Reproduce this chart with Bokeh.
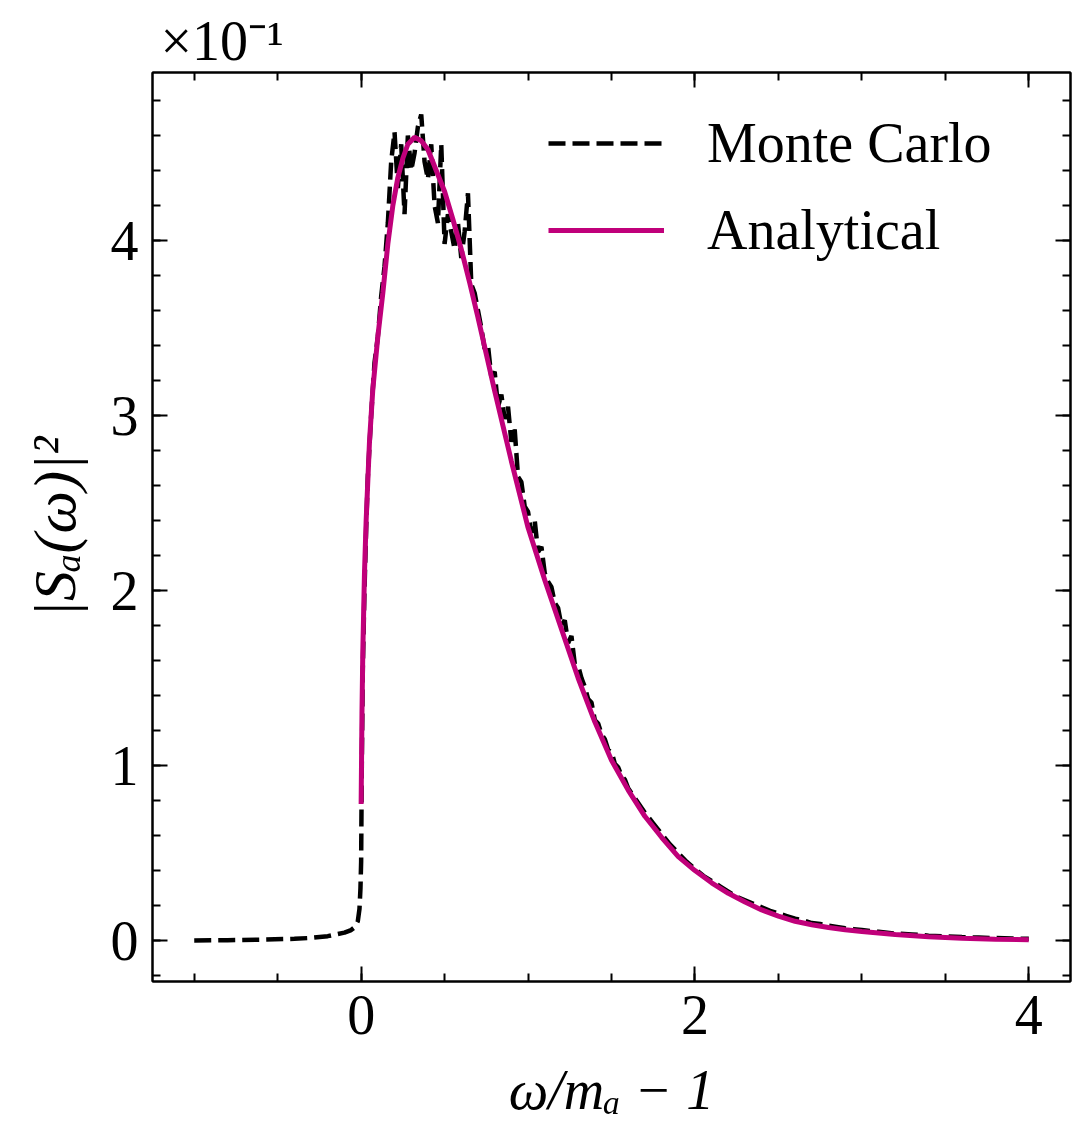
import numpy as np
from bokeh.plotting import figure
from bokeh.models import Range1d, LinearAxis, FixedTicker, Legend, LegendItem
from bokeh.embed import file_html
from bokeh.resources import INLINE

# ---------------- data ----------------
mc_x = [-1.0, -0.8, -0.6, -0.4, -0.3, -0.2, -0.1, -0.06, -0.04, -0.02, -0.01, -0.004, 0.0, 0.004,
        0.01, 0.02, 0.03, 0.04, 0.06, 0.08, 0.10, 0.12, 0.14, 0.16, 0.18, 0.20, 0.22, 0.24, 0.26,
        0.28, 0.30, 0.32, 0.34, 0.36, 0.38, 0.40, 0.42, 0.44, 0.46, 0.48, 0.50, 0.52, 0.54, 0.56,
        0.58, 0.60, 0.62, 0.64, 0.66, 0.68, 0.70, 0.72, 0.74, 0.76, 0.78, 0.80, 0.82, 0.84, 0.86,
        0.88, 0.90, 0.92, 0.94, 0.96, 0.98, 1.00, 1.02, 1.04, 1.06, 1.08, 1.10, 1.12, 1.14, 1.16,
        1.18, 1.20, 1.22, 1.24, 1.26, 1.28, 1.30, 1.32, 1.34, 1.36, 1.38, 1.40, 1.42, 1.44, 1.46,
        1.48, 1.50, 1.52, 1.54, 1.56, 1.58, 1.60, 1.65, 1.70, 1.75, 1.80, 1.85, 1.90, 1.95, 2.00,
        2.05, 2.10, 2.15, 2.20, 2.25, 2.30, 2.35, 2.40, 2.45, 2.50, 2.55, 2.60, 2.65, 2.70, 2.75,
        2.80, 2.85, 2.90, 2.95, 3.00, 3.10, 3.20, 3.30, 3.40, 3.50, 3.60, 3.70, 3.80, 3.90, 4.00]
mc_y = [0.0, 0.002, 0.005, 0.01, 0.015, 0.025, 0.045, 0.06, 0.075, 0.11, 0.18, 0.3, 0.45, 1.0,
        1.55, 2.0, 2.35, 2.65, 3.0, 3.3, 3.45, 3.68, 3.85, 4.1, 4.45, 4.62, 4.3, 4.55, 4.15,
        4.6, 4.4, 4.5, 4.65, 4.72, 4.45, 4.35, 4.55, 4.2, 4.1, 4.55, 3.98, 4.15, 4.05, 3.95,
        4.1, 3.9, 4.05, 4.27, 3.75, 3.7, 3.6, 3.5, 3.38, 3.4, 3.22, 3.25, 3.05, 3.12, 2.98,
        3.05, 2.85, 2.92, 2.65, 2.62, 2.48, 2.45, 2.33, 2.40, 2.22, 2.25, 2.10, 2.05, 2.02, 1.93,
        1.90, 1.80, 1.83, 1.70, 1.74, 1.58, 1.57, 1.50, 1.45, 1.38, 1.36, 1.26, 1.24, 1.18, 1.15,
        1.09, 1.08, 1.01, 0.99, 0.94, 0.92, 0.87, 0.80, 0.73, 0.67, 0.61, 0.55, 0.50, 0.45, 0.41,
        0.37, 0.34, 0.31, 0.28, 0.25, 0.23, 0.21, 0.19, 0.17, 0.155, 0.14, 0.125, 0.115, 0.10, 0.095,
        0.085, 0.078, 0.07, 0.065, 0.06, 0.05, 0.04, 0.035, 0.028, 0.024, 0.02, 0.017, 0.014, 0.012, 0.01]

an_x = [0.0, 0.005, 0.01, 0.02, 0.03, 0.05, 0.07, 0.10, 0.13, 0.16, 0.19, 0.22, 0.25, 0.28,
        0.32, 0.36, 0.40, 0.45, 0.50, 0.55, 0.60, 0.65, 0.70, 0.75, 0.80, 0.87, 0.90, 1.00,
        1.10, 1.20, 1.30, 1.40, 1.50, 1.60, 1.70, 1.80, 1.90, 2.00, 2.10, 2.20, 2.30, 2.40,
        2.50, 2.60, 2.70, 2.80, 2.90, 3.00, 3.20, 3.40, 3.60, 3.80, 4.00]
an_y = [0.78, 1.3, 1.65, 2.1, 2.4, 2.85, 3.15, 3.45, 3.70, 3.98, 4.2, 4.36, 4.47, 4.55,
        4.59, 4.57, 4.52, 4.40, 4.28, 4.12, 3.95, 3.76, 3.56, 3.35, 3.14, 2.86, 2.74, 2.36,
        2.06, 1.78, 1.50, 1.25, 1.03, 0.86, 0.71, 0.59, 0.48, 0.40, 0.33, 0.27, 0.22, 0.175,
        0.14, 0.11, 0.09, 0.075, 0.062, 0.052, 0.035, 0.022, 0.013, 0.008, 0.005]

x_major = [0, 2, 4]
x_minor = [-1.0, -0.5, 0.0, 0.5, 1.0, 1.5, 2.0, 2.5, 3.0, 3.5, 4.0]
y_major = [0, 1, 2, 3, 4]
y_minor = [round(-0.2 + 0.2 * i, 1) for i in range(26)]

FONT = "Liberation Serif"
FS = "56px"
MAGENTA = "#c0007a"

p = figure(frame_width=918, frame_height=909,
           x_range=Range1d(-1.25, 4.25), y_range=Range1d(-0.234, 4.96),
           output_backend="svg", toolbar_location=None,
           min_border_left=152, min_border_right=12, min_border_top=72, min_border_bottom=140,
           x_axis_label="ω/mₐ − 1", y_axis_label="|Sₐ(ω)|²",
           title="×10⁻¹")
p.grid.visible = False
p.outline_line_color = "black"
p.outline_line_width = 2
p.background_fill_color = "white"
p.border_fill_color = "white"

p.title.text_font = FONT
p.title.text_font_size = FS
p.title.text_font_style = "normal"
p.title.text_color = "black"
p.title.align = "left"
p.title.offset = 8
p.title.standoff = 2

xt = FixedTicker(ticks=x_major, minor_ticks=x_minor)
yt = FixedTicker(ticks=y_major, minor_ticks=y_minor)

def style(ax, show_labels):
    ax.axis_line_width = 2
    ax.axis_line_color = "black"
    ax.major_tick_in = 15
    ax.major_tick_out = 0
    ax.minor_tick_in = 8
    ax.minor_tick_out = 0
    ax.major_tick_line_width = 2
    ax.minor_tick_line_width = 2
    ax.major_tick_line_color = "black"
    ax.minor_tick_line_color = "black"
    ax.major_label_text_font = FONT
    if show_labels:
        ax.major_label_text_color = "black"
        ax.major_label_text_font_size = FS
        ax.major_label_standoff = 14
    else:
        ax.major_label_text_color = None
        ax.major_label_text_font_size = "1px"
        ax.major_label_standoff = 0

p.xaxis[0].ticker = xt
p.yaxis[0].ticker = yt
style(p.xaxis[0], True)
style(p.yaxis[0], True)
for ax in (p.xaxis[0], p.yaxis[0]):
    ax.axis_label_text_font = FONT
    ax.axis_label_text_font_style = "italic"
    ax.axis_label_text_color = "black"
p.xaxis[0].axis_label_text_font_size = FS
p.yaxis[0].axis_label_text_font_size = "60px"
p.xaxis[0].axis_label_standoff = 22
p.yaxis[0].axis_label_standoff = 20

top = LinearAxis(ticker=xt)
style(top, False)
right = LinearAxis(ticker=yt)
style(right, False)
p.add_layout(top, "above")
p.add_layout(right, "right")

r_mc = p.line(mc_x, mc_y, line_color="black", line_width=4.5, line_dash="17 7")
r_an = p.line(an_x, an_y, line_color=MAGENTA, line_width=5)

legend = Legend(items=[LegendItem(label="Monte Carlo", renderers=[r_mc]),
                       LegendItem(label="Analytical", renderers=[r_an])],
                location=(396, 719), padding=0, margin=0, spacing=23,
                glyph_width=116, glyph_height=60, label_height=60, label_standoff=43,
                label_text_font=FONT, label_text_font_size=FS, label_text_color="black",
                border_line_color=None, background_fill_alpha=0)
p.add_layout(legend)

open("out.html", "w").write(file_html(p, INLINE))
